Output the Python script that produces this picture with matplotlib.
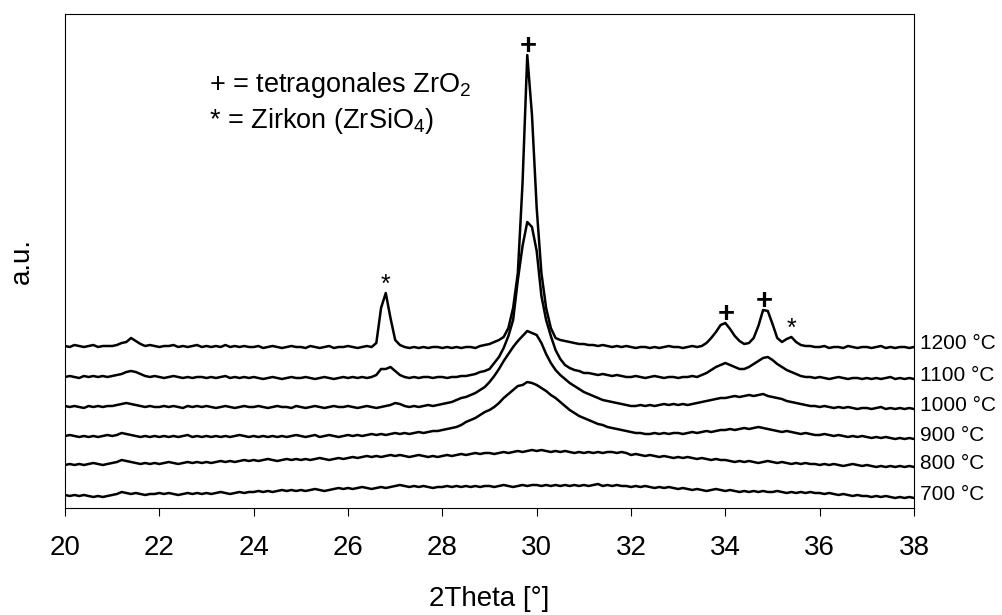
import numpy as np
import matplotlib
matplotlib.use("Agg")
import matplotlib.pyplot as plt

plt.rcParams["font.family"] = ["Liberation Sans", "DejaVu Sans"]
plt.rcParams["mathtext.fontset"] = "custom"
plt.rcParams["mathtext.rm"] = "Liberation Sans"

# diffractometer step: 0.1 deg from 20 to 38 deg 2Theta
two_theta = np.linspace(20, 38, 181)

# stacked patterns (offset already included), one row per degree
I_1200 = [
    162, 161, 163, 162, 161, 162, 163, 161, 162, 162,
    162, 163, 165, 166, 170, 167, 164, 162, 163, 162,
    161, 162, 162, 163, 161, 162, 161, 162, 163, 161,
    162, 161, 162, 161, 163, 161, 162, 161, 162, 161,
    161, 162, 160, 161, 162, 161, 160, 161, 162, 161,
    161, 160, 162, 161, 160, 161, 162, 160, 161, 161,
    162, 161, 160, 161, 162, 161, 165, 200, 215, 190,
    168, 163, 161, 160, 161, 160, 161, 160, 161, 161,
    160, 161, 160, 161, 160, 161, 161, 160, 162, 163,
    164, 166, 168, 171, 180, 200, 235, 325, 453, 393,
    300, 235, 200, 180, 170, 168, 167, 166, 165, 164,
    164, 163, 163, 162, 163, 162, 161, 162, 161, 162,
    161, 160, 161, 161, 160, 161, 160, 161, 162, 161,
    161, 160, 161, 162, 161, 162, 165, 170, 176, 183,
    185, 179, 172, 167, 164, 165, 170, 182, 198, 197,
    184, 170, 166, 169, 171, 166, 163, 162, 162, 161,
    161, 162, 160, 161, 161, 160, 162, 161, 160, 161,
    161, 160, 161, 162, 160, 161, 160, 161, 161, 160,
    161,
]
I_1100 = [
    131, 132, 131, 130, 132, 131, 132, 131, 132, 131,
    132, 133, 134, 136, 137, 136, 134, 132, 131, 132,
    131, 130, 131, 132, 131, 130, 131, 130, 131, 131,
    130, 131, 130, 131, 132, 130, 131, 130, 131, 130,
    131, 130, 129, 130, 131, 130, 129, 130, 131, 130,
    130, 131, 130, 129, 130, 131, 130, 129, 130, 131,
    130, 131, 130, 131, 130, 131, 133, 139, 139, 141,
    137, 133, 131, 130, 131, 130, 131, 131, 130, 131,
    131, 130, 131, 131, 132, 132, 133, 134, 136, 137,
    139, 145, 151, 160, 172, 188, 228, 262, 286, 281,
    257, 212, 188, 172, 158, 149, 143, 140, 138, 137,
    135, 135, 134, 133, 134, 133, 132, 133, 132, 131,
    131, 132, 131, 130, 131, 132, 131, 130, 131, 131,
    130, 131, 131, 132, 131, 133, 135, 138, 141, 143,
    145, 143, 141, 139, 139, 141, 144, 147, 150, 151,
    148, 144, 141, 138, 136, 134, 132, 131, 131, 130,
    131, 130, 129, 130, 131, 130, 129, 130, 130, 129,
    130, 129, 130, 129, 130, 131, 129, 130, 129, 130,
    129,
]
I_1000 = [
    102, 101, 102, 101, 100, 102, 101, 102, 101, 102,
    102, 103, 104, 105, 104, 103, 102, 101, 102, 101,
    101, 102, 101, 102, 101, 100, 102, 101, 102, 101,
    102, 101, 100, 101, 102, 101, 100, 101, 102, 101,
    101, 102, 101, 100, 101, 102, 101, 101, 100, 102,
    101, 100, 101, 102, 101, 100, 101, 102, 101, 101,
    102, 101, 100, 101, 102, 101, 100, 101, 102, 103,
    105, 104, 102, 101, 102, 101, 102, 103, 102, 103,
    104, 105, 106, 108, 110, 111, 113, 115, 118, 121,
    126, 132, 139, 147, 154, 161, 167, 172, 177, 175,
    173, 165, 154, 145, 138, 133, 129, 125, 122, 119,
    116, 114, 112, 110, 108, 107, 106, 105, 104, 103,
    102, 102, 103, 102, 103, 102, 103, 104, 103, 104,
    103, 104, 103, 104, 105, 106, 107, 108, 109, 110,
    110, 111, 112, 111, 112, 113, 112, 113, 114, 112,
    111, 110, 109, 107, 106, 105, 104, 103, 102, 102,
    101, 102, 101, 100, 101, 100, 101, 100, 99, 100,
    100, 99, 100, 101, 99, 100, 99, 100, 99, 100,
    99,
]
I_900 = [
    72, 73, 72, 71, 72, 71, 72, 71, 72, 73,
    72, 73, 75, 74, 73, 72, 71, 72, 71, 72,
    71, 72, 71, 72, 71, 72, 73, 71, 72, 71,
    72, 71, 72, 71, 72, 71, 72, 73, 72, 71,
    72, 71, 72, 71, 72, 71, 72, 71, 72, 73,
    72, 71, 72, 73, 71, 72, 73, 72, 71, 72,
    73, 72, 73, 72, 73, 74, 73, 74, 73, 74,
    75, 74, 75, 74, 75, 76, 75, 76, 77, 77,
    78, 79, 80, 81, 83, 86, 88, 90, 93, 96,
    98, 101, 105, 110, 114, 118, 122, 123, 126, 125,
    123, 120, 117, 113, 110, 106, 102, 98, 95, 92,
    90, 88, 86, 84, 83, 81, 80, 79, 78, 77,
    76, 75, 75, 74, 74, 75, 74, 75, 74, 75,
    75, 74, 75, 76, 75, 76, 77, 76, 77, 78,
    78, 79, 78, 79, 80, 79, 80, 81, 80, 79,
    78, 77, 76, 77, 76, 75, 74, 75, 74, 73,
    73, 74, 73, 72, 73, 72, 71, 72, 71, 72,
    71, 70, 71, 70, 71, 70, 69, 70, 69, 70,
    69,
]
I_800 = [
    43, 44, 43, 44, 43, 44, 45, 44, 43, 44,
    45, 46, 48, 47, 46, 45, 44, 45, 44, 45,
    44, 45, 46, 45, 44, 45, 46, 45, 46, 45,
    46, 45, 46, 47, 46, 47, 46, 47, 48, 47,
    48, 47, 48, 49, 48, 47, 48, 49, 48, 49,
    48, 49, 48, 49, 50, 49, 48, 49, 50, 49,
    50, 51, 50, 51, 52, 51, 52, 51, 52, 53,
    52, 53, 52, 51, 52, 53, 52, 51, 52, 51,
    52, 53, 52, 53, 54, 53, 54, 55, 54, 55,
    55, 54, 55, 56, 55, 56, 57, 56, 57, 58,
    57, 58, 57, 56, 57, 56, 57, 56, 55, 56,
    55, 56, 55, 56, 55, 56, 56, 55, 56, 55,
    53, 54, 53, 52, 53, 52, 51, 52, 51, 50,
    51, 50, 51, 50, 49, 50, 49, 48, 49, 48,
    48, 47, 46, 47, 46, 47, 46, 45, 46, 47,
    46, 45, 46, 45, 44, 45, 44, 45, 44, 44,
    43, 44, 43, 44, 43, 42, 43, 44, 43, 42,
    43, 42, 41, 42, 41, 42, 41, 42, 41, 42,
    41,
]
I_700 = [
    13, 12, 13, 12, 13, 12, 11, 12, 11, 12,
    13, 14, 16, 15, 14, 15, 14, 13, 14, 14,
    15, 14, 15, 14, 13, 14, 15, 14, 15, 14,
    15, 14, 15, 16, 15, 14, 15, 16, 15, 16,
    16, 17, 16, 17, 16, 17, 18, 17, 18, 17,
    18, 17, 18, 19, 18, 17, 18, 19, 20, 19,
    20, 19, 20, 21, 20, 19, 20, 21, 20, 21,
    22, 23, 22, 21, 22, 21, 22, 21, 20, 21,
    21, 22, 21, 22, 21, 22, 21, 22, 21, 22,
    22, 21, 22, 23, 22, 21, 22, 23, 22, 23,
    23, 22, 23, 22, 23, 22, 23, 22, 23, 22,
    23, 22, 23, 24, 22, 23, 22, 23, 22, 22,
    21, 22, 21, 22, 21, 20, 21, 20, 21, 20,
    19, 20, 19, 18, 19, 18, 17, 18, 19, 18,
    17, 18, 17, 16, 17, 16, 17, 16, 17, 16,
    16, 17, 16, 15, 16, 15, 16, 15, 16, 15,
    15, 14, 15, 14, 13, 14, 13, 12, 13, 12,
    12, 11, 12, 11, 12, 11, 10, 11, 10, 11,
    10,
]

temperatures = ["700 °C", "800 °C", "900 °C", "1000 °C", "1100 °C", "1200 °C"]
patterns = [I_700, I_800, I_900, I_1000, I_1100, I_1200]

# reflections marked on the 1200 °C pattern
peak_angles = [26.8, 29.8, 34.0, 34.8, 35.4]
peak_marks = ["*", "+", "+", "+", "*"]

fig = plt.figure(figsize=(10.02, 6.15), dpi=100)
ax = fig.add_axes([0.0649, 0.174, 0.8473, 0.804])

for label, counts in zip(temperatures, patterns):
    counts = np.asarray(counts, dtype=float)
    ax.plot(two_theta, counts, color="black", lw=1.8, solid_joinstyle="round")
    ax.annotate(label, xy=(two_theta[-1], counts[-1]), xytext=(4.5, 2.7),
                textcoords="offset points", ha="left", va="center",
                fontsize=15, annotation_clip=False)

top = np.asarray(I_1200, dtype=float)
for ang, mark in zip(peak_angles, peak_marks):
    h = np.interp(ang, two_theta, top)
    if mark == "+":
        ax.annotate(mark, xy=(ang, h), xytext=(0.5, 1), textcoords="offset points",
                    ha="center", va="baseline", fontsize=21, fontweight="bold")
    else:
        ax.annotate(mark, xy=(ang, h), xytext=(0, 1), textcoords="offset points",
                    ha="center", va="baseline", fontsize=18)

ax.text(23.05, 416, "+ = tetragonales ZrO$_{2}$", fontsize=19.5, va="baseline")
ax.text(23.05, 380, "* = Zirkon (ZrSiO$_{4}$)", fontsize=19.5, va="baseline")

ax.set_xlim(20, 38)
ax.set_ylim(0, 494.5)
ax.set_xticks(np.arange(20, 39, 2))
ax.set_yticks([])
ax.tick_params(axis="x", direction="out", length=5.8, width=0.8,
               labelsize=20, pad=14)
for sp in ax.spines.values():
    sp.set_linewidth(0.8)

ax.set_xlabel("2Theta [°]", fontsize=20, labelpad=18)
ax.set_ylabel("a.u.", fontsize=20, labelpad=22)

fig.savefig("out.png", dpi=100)
